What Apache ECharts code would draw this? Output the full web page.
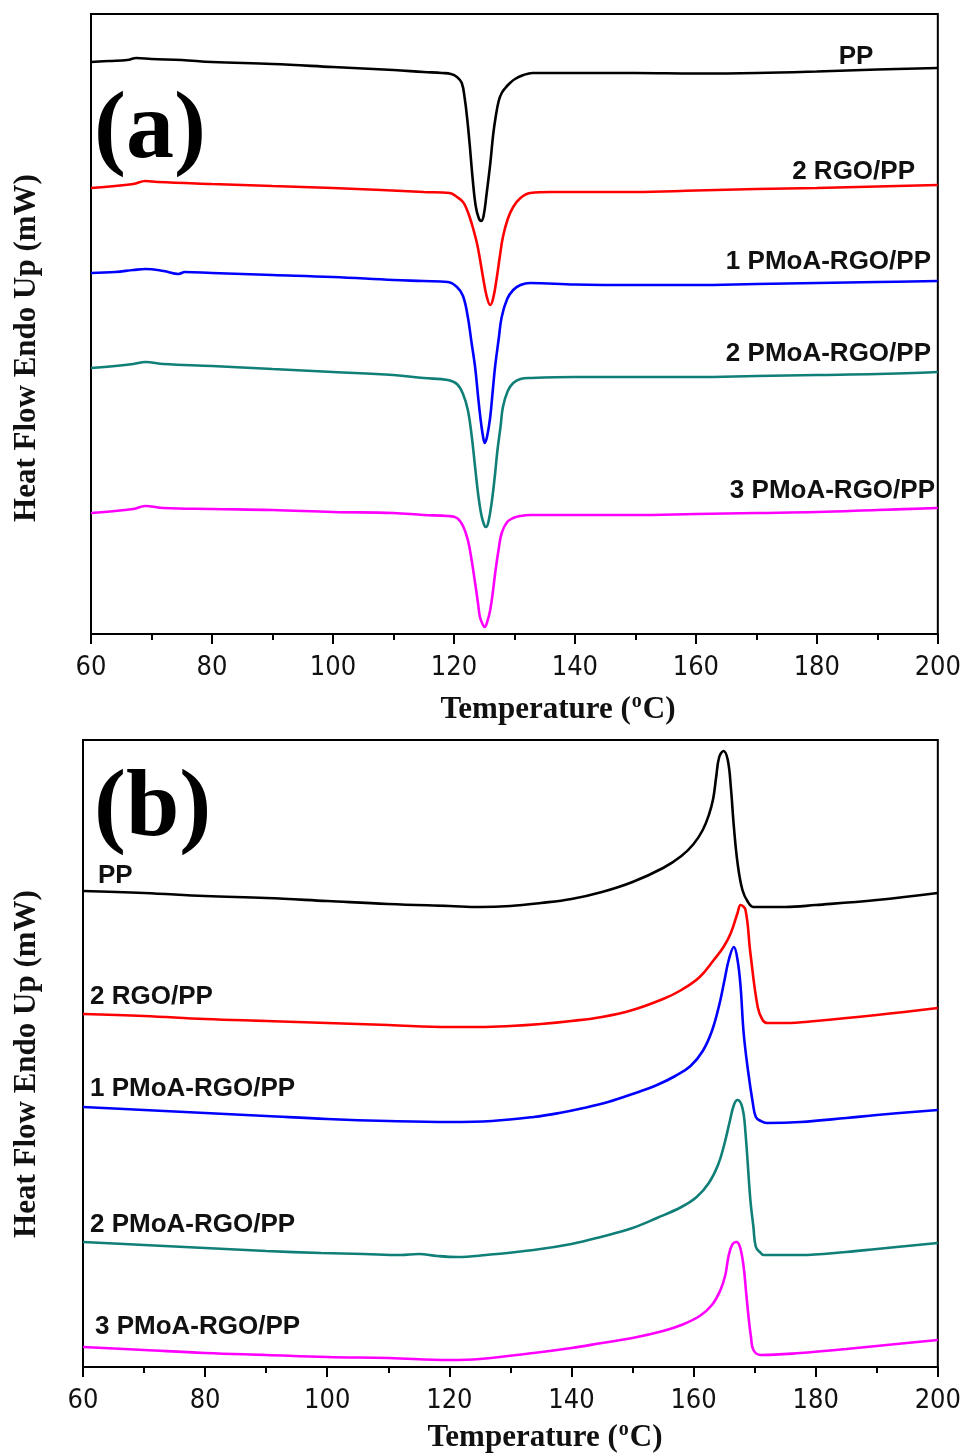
<!DOCTYPE html>
<html>
<head>
<meta charset="utf-8">
<script src="https://cdn.jsdelivr.net/npm/echarts@6/dist/echarts.min.js"></script>
<style>
  html, body { margin: 0; padding: 0; background: #fff; }
  #main { width: 964px; height: 1456px; }
</style>
</head>
<body>
<div id="main"></div>
<script>
// DSC curves, heat flow in arbitrary units
// (a) cooling scans
var coolPP = [[60,572],[63,573],[66,574],[67.5,576],[70,575],[75,574],[80,572],[90,570],[100,567],[110,564],[115,562],[118,561],[119.5,560],[120.5,557],[121.3,551],[121.8,535],[122.2,515],[122.6,490],[123.1,455],[123.6,428],[124.1,416],[124.5,413],[124.9,418],[125.4,440],[126.0,470],[126.5,500],[126.9,517],[127.4,533],[127.9,541],[128.5,546],[129.1,550],[130.1,555],[131.5,559],[133,561],[140,561],[150,561],[160,560.5],[170,561],[180,562.5],[190,564.5],[200,566]];
var coolRGO2 = [[60,446],[64,448],[67,450],[69,453],[71,452],[80,450],[90,448],[100,446],[108,444],[115,442],[119.3,441],[120.5,437],[121.5,432],[122.1,425],[122.6,417],[123.2,405],[123.8,391],[124.3,375],[124.8,357],[125.4,338],[126.0,329],[126.5,336],[127.1,357],[127.6,378],[128.1,397],[128.9,415],[129.8,427],[131,436],[132.6,441],[136,442],[140,442],[150,442],[160,443.5],[170,445],[180,446],[190,447.5],[200,449]];
var coolPM1 = [[60,361],[64,362],[67,364],[69,365],[72,363],[74.5,360],[75.5,362],[80,361],[90,359],[100,357],[110,354],[115,353],[119,352],[120.5,347],[121.5,338],[122.3,317],[122.9,292],[123.5,267],[124.0,237],[124.4,215],[124.8,198],[125.1,191],[125.5,198],[126.0,217],[126.4,242],[126.8,267],[127.4,295],[127.9,317],[128.8,335],[129.8,344],[131,349],[132.6,351],[140,349.5],[150,349],[160,349],[170,350],[180,351],[190,352],[200,353]];
var coolPM2 = [[60,266],[64,268],[67,270],[69,272],[72,270],[80,268],[90,265],[100,262],[110,259],[115,256],[119,254],[120.5,250],[121.5,240],[122.3,224],[122.9,200],[123.5,167],[124.0,140],[124.5,120],[125.0,109],[125.3,107],[125.7,112],[126.3,134],[126.8,160],[127.2,184],[127.7,207],[128.1,227],[128.9,243],[129.8,251],[131,255],[132.6,256],[140,257],[150,257],[160,257],[170,258],[180,259],[190,260],[200,262]];
var coolPM3 = [[60,121],[64,123],[67,125],[69,128],[72,126],[80,125],[90,124],[100,122],[110,121],[115,119],[119,118],[120.5,116],[121.5,108],[122.3,94],[122.9,75],[123.5,51],[124.0,30],[124.3,17],[124.8,9],[125.1,7],[125.5,12],[126.0,24],[126.5,45],[126.8,60],[127.4,85],[127.9,101],[128.8,112],[129.8,116],[131,118],[132.6,119],[140,119],[150,119],[160,120],[170,121],[180,122],[190,124],[200,126]];

// (b) heating scans
var heatPP = [[60,476],[70,474],[80,471],[90,469],[100,466],[110,463],[120,461],[125,460],[130,461],[135,464],[140,468],[145,475],[150,485],[155,499],[158,511],[160,523],[161.5,537],[162.5,552],[163.2,568],[163.7,590],[164.2,610],[164.9,616],[165.6,607],[166.1,580],[166.6,540],[167.2,504],[168,477],[168.9,465],[169.8,460],[172,460],[175,460],[180,462],[190,467],[200,474]];
var heatRGO2 = [[60,353],[70,351],[80,348],[90,346],[100,344],[110,342],[120,340],[125,340],[130,341],[135,343],[140,346],[145,350],[150,357],[155,368],[158,377],[161,390],[163.3,407],[164.9,420],[166.1,434],[167.2,454],[167.7,462],[168.5,457],[169.3,414],[170.5,360],[171.3,347],[172.1,344],[175,344],[180,346],[190,352],[200,359]];
var heatPM1 = [[60,260],[70,257],[80,254],[90,251],[100,248],[110,246],[120,245],[127,246],[133.8,250],[138,254],[142,259],[146,265],[150,273],[154,282],[157,291],[159.5,301],[161.5,316],[163,336],[164.2,362],[165,385],[165.8,408],[166.6,420],[167.2,407],[167.7,380],[168.2,334],[168.9,297],[169.7,264],[170.2,250],[171,246],[172,244],[177.5,245],[185,249],[190,252],[200,257]];
var heatPM2 = [[60,125],[70,122],[80,119],[90,116],[99,114],[106,113],[112,112],[115,113],[118,111],[121.3,110],[126,112],[133.8,117],[140,123],[144.8,130],[150,139],[154,149],[158,160],[160.5,170],[162.5,184],[164,202],[165,222],[165.9,245],[166.6,262],[167.2,267],[168,259],[168.5,234],[169.3,167],[169.8,140],[170.2,120],[171,114],[171.5,112],[177.5,112],[185,115],[190,118],[200,124]];
var heatPM3 = [[60,20],[70,17],[80,14],[90,12],[100,10],[110,9],[120,7],[125,8],[133.8,14],[140,19],[145,24],[150,29],[155,36],[158,42],[161,51],[163,62],[164.4,77],[165.2,92],[165.7,110],[166.3,122],[167,125],[167.6,120],[168.2,100],[168.6,75],[169,50],[169.4,30],[169.8,17],[171,12],[177.5,14],[185,18],[190,21],[200,27]];

var sampleNames = ['PP', '2 RGO/PP', '1 PMoA-RGO/PP', '2 PMoA-RGO/PP', '3 PMoA-RGO/PP'];
var sampleColors = ['#000000', '#ff0000', '#0000ff', '#0f7f78', '#ff00ff'];
var xTicks = [60, 80, 100, 120, 140, 160, 180, 200];

var chart = echarts.init(document.getElementById('main'));

var serif = '"Liberation Serif", "Times New Roman", serif';
var sans = '"Liberation Sans", Arial, sans-serif';
var narrow = '"Liberation Sans Narrow", "DejaVu Sans Condensed", sans-serif';

function xAxisFor(grid) {
  return {
    type: 'value', gridIndex: grid, min: xTicks[0], max: xTicks[xTicks.length - 1], interval: 20,
    axisLine: { show: true, lineStyle: { color: '#000', width: 2 } },
    axisTick: { show: true, inside: false, length: 10, lineStyle: { color: '#000', width: 2 } },
    minorTick: { show: true, splitNumber: 2, length: 6, lineStyle: { color: '#000', width: 2 } },
    splitLine: { show: false },
    axisLabel: { color: '#111', fontFamily: narrow, fontSize: 27, margin: 20 }
  };
}
function yAxisFor(grid, max) {
  return {
    type: 'value', gridIndex: grid, min: 0, max: max,
    axisLine: { show: false }, axisTick: { show: false },
    axisLabel: { show: false }, splitLine: { show: false }
  };
}
function line(data, i, grid) {
  return {
    type: 'line', name: sampleNames[i], xAxisIndex: grid, yAxisIndex: grid,
    data: data, showSymbol: false, smooth: 0.4,
    lineStyle: { color: sampleColors[i], width: 2.6 }, z: 3
  };
}
function seriesLabel(text, x, y, align) {
  return {
    type: 'text', x: x, y: y, z: 10,
    style: { text: text, fill: '#111', font: 'bold 26px ' + sans, align: align, verticalAlign: 'middle' }
  };
}
function tempTitle(x, y) {
  return {
    type: 'text', x: x, y: y, z: 10,
    style: {
      text: '{t|Temperature (}{s|o}{t|C)}', align: 'center', verticalAlign: 'middle',
      rich: {
        t: { fontFamily: serif, fontWeight: 'bold', fontSize: 31, fill: '#111', lineHeight: 36 },
        s: { fontFamily: serif, fontWeight: 'bold', fontSize: 20, fill: '#111', verticalAlign: 'top', lineHeight: 18, padding: [0, 1, 0, 1] }
      }
    }
  };
}
function heatTitle(x, y) {
  return {
    type: 'text', x: x, y: y, rotation: Math.PI / 2, z: 10,
    style: { text: 'Heat Flow Endo Up (mW)', fill: '#111', font: 'bold 31px ' + serif, align: 'center', verticalAlign: 'middle' }
  };
}
function panelTag(text, x, y) {
  return {
    type: 'text', x: x, y: y, z: 10,
    style: { text: text, fill: '#000', font: 'bold 96px ' + serif, align: 'left', verticalAlign: 'middle' }
  };
}

var option = {
  animation: false,
  backgroundColor: '#fff',
  grid: [
    { left: 91, top: 14, width: 847, height: 620, show: true, borderColor: '#000', borderWidth: 2, backgroundColor: 'transparent' },
    { left: 83, top: 740, width: 855, height: 627, show: true, borderColor: '#000', borderWidth: 2, backgroundColor: 'transparent' }
  ],
  xAxis: [xAxisFor(0), xAxisFor(1)],
  yAxis: [yAxisFor(0, 620), yAxisFor(1, 627)],
  series: [
    line(coolPP, 0, 0), line(coolRGO2, 1, 0), line(coolPM1, 2, 0), line(coolPM2, 3, 0), line(coolPM3, 4, 0),
    line(heatPP, 0, 1), line(heatRGO2, 1, 1), line(heatPM1, 2, 1), line(heatPM2, 3, 1), line(heatPM3, 4, 1)
  ],
  graphic: [
    panelTag('(a)', 94, 132),
    panelTag('(b)', 94, 810),
    heatTitle(27, 348),
    heatTitle(27, 1064),
    tempTitle(558, 710),
    tempTitle(545, 1438),
    seriesLabel(sampleNames[0], 856, 57, 'center'),
    seriesLabel(sampleNames[1], 915, 172, 'right'),
    seriesLabel(sampleNames[2], 931, 262, 'right'),
    seriesLabel(sampleNames[3], 931, 354, 'right'),
    seriesLabel(sampleNames[4], 935, 491, 'right'),
    seriesLabel(sampleNames[0], 98, 876, 'left'),
    seriesLabel(sampleNames[1], 90, 997, 'left'),
    seriesLabel(sampleNames[2], 90, 1089, 'left'),
    seriesLabel(sampleNames[3], 90, 1225, 'left'),
    seriesLabel(sampleNames[4], 95, 1327, 'left')
  ]
};
chart.setOption(option);
</script>
</body>
</html>
